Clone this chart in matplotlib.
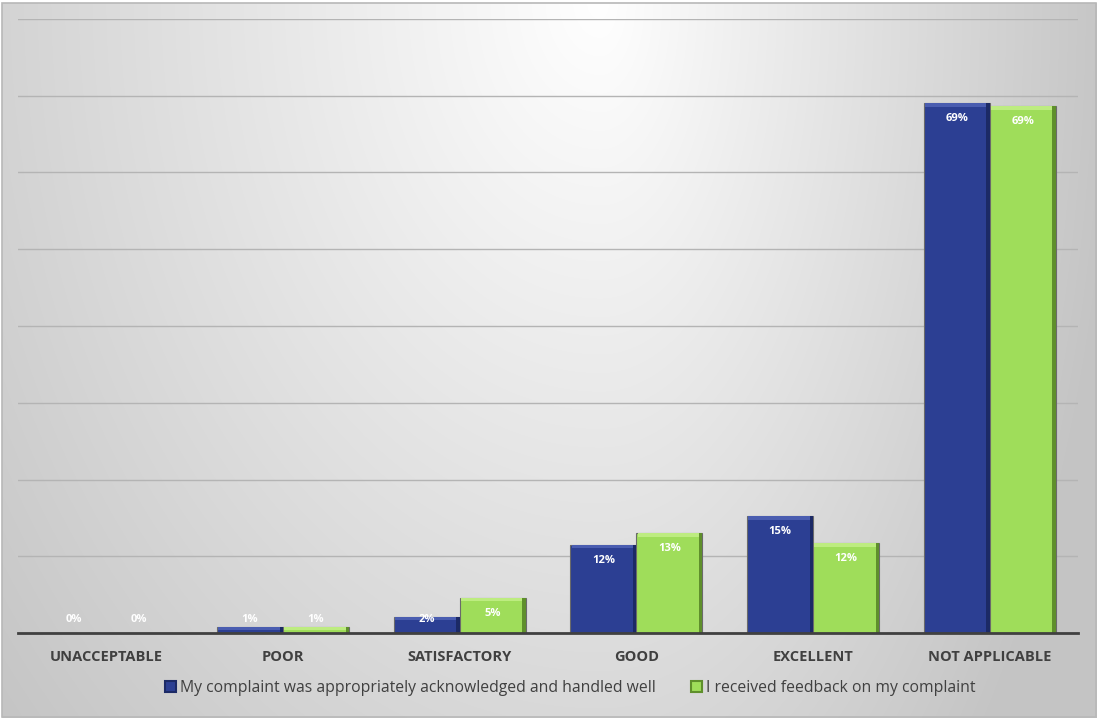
import numpy as np
import matplotlib
matplotlib.use("Agg")
import matplotlib.pyplot as plt
from matplotlib.patches import Rectangle

# data
categories = ["UNACCEPTABLE", "POOR", "SATISFACTORY", "GOOD", "EXCELLENT", "NOT APPLICABLE"]
handled_well = [0, 1, 2, 12, 15, 69]
got_feedback = [0, 1, 5, 13, 12, 69]
series_names = ["My complaint was appropriately acknowledged and handled well",
                "I received feedback on my complaint"]

# drawn heights (labels are rounded in the source)
handled_h = [0, 0.8, 2.1, 11.5, 15.2, 69.0]
feedback_h = [0, 0.8, 4.6, 13.0, 11.7, 68.6]

blue = "#2c3f93"
green = "#9fdd5a"
blue_hi, blue_lo = "#4a5db0", "#1c2a66"
green_hi, green_lo = "#bdec80", "#5f8f2c"

plt.rcParams['font.family'] = ['Open Sans', 'DejaVu Sans']

W, H = 1103, 722
fig = plt.figure(figsize=(W / 100, H / 100), dpi=100)
fig.patch.set_facecolor("white")

# -----------------------------
# background gradient
# -----------------------------
bg = fig.add_axes([0, 0, 1, 1], zorder=-10)
yy, xx = np.mgrid[0:H, 0:W]
cx = 600.0
ax_scale = np.where(xx < cx, 700.0, 450.0)
r = np.sqrt(((xx - cx) / ax_scale) ** 2 + (yy / 950.0) ** 2)
shade = 1.0 - 0.2 * np.clip(r, 0, 1.15)
img = np.ones((H, W, 3))
inside = (xx >= 2) & (xx <= 1096) & (yy >= 3) & (yy <= 717)
for c in range(3):
    img[..., c] = np.where(inside, shade, 1.0)
bg.imshow(img, extent=[0, W, H, 0], aspect="auto", interpolation="bilinear")
bg.set_xlim(0, W)
bg.set_ylim(H, 0)
bg.axis("off")
bg.add_patch(Rectangle((2, 3), 1094, 714, fill=False, edgecolor="#b8b8b8", lw=1.2))

# -----------------------------
# bars
# -----------------------------
ax = fig.add_axes([18 / W, 1 - 633 / H, (1078 - 18) / W, (633 - 19) / H])
ax.patch.set_alpha(0)

x = np.arange(len(categories))
bw = 0.373

def bevel_bars(xpos, heights, face, hi, lo):
    ax.bar(xpos, heights, bw, color=face, edgecolor="#6a6a6a", linewidth=0.8, zorder=3)
    h = np.array(heights)
    cap = np.minimum(h, 0.45)
    ax.bar(xpos, cap, bw * 0.96, bottom=h - cap, color=hi, linewidth=0, zorder=4)
    ax.bar(xpos + bw * 0.475, h, bw * 0.05, color=lo, linewidth=0, zorder=4)

bevel_bars(x - bw / 2, handled_h, blue, blue_hi, blue_lo)
bevel_bars(x + bw / 2, feedback_h, green, green_hi, green_lo)

for xs, hs, vals in [(x - bw / 2, handled_h, handled_well),
                     (x + bw / 2, feedback_h, got_feedback)]:
    for xi, hi_, v in zip(xs, hs, vals):
        ax.text(xi, max(hi_, 3.7) - 2.0, f"{v}%", ha="center", va="center",
                color="white", fontsize=8, fontweight="bold", zorder=5)

ax.set_xlim(-0.5, len(categories) - 0.5)
ax.set_ylim(0, 80)
ax.set_yticks(np.arange(0, 81, 10))
ax.yaxis.grid(True, color="#b4b4b4", lw=1.0, zorder=0)
ax.set_axisbelow(True)
ax.tick_params(axis="y", left=False, labelleft=False)
ax.set_xticks(x)
ax.set_xticklabels(categories, fontsize=10.5, fontweight="bold", color="#404040")
ax.tick_params(axis="x", length=0, pad=12)
for s in ["top", "right", "left"]:
    ax.spines[s].set_visible(False)
ax.spines["bottom"].set_color("#404040")
ax.spines["bottom"].set_linewidth(2)
ax.spines["bottom"].set_zorder(6)

handles = [Rectangle((0, 0), 1, 1, facecolor=blue, edgecolor=blue_lo, lw=1.5),
           Rectangle((0, 0), 1, 1, facecolor=green, edgecolor=green_lo, lw=1.5)]
fig.legend(handles, series_names, loc="center", bbox_to_anchor=(0.517, 1 - 688 / H),
           ncol=2, frameon=False, fontsize=11.3, labelcolor="#404040",
           handlelength=0.7, handleheight=0.7, handletextpad=0.3, columnspacing=2.2)

fig.savefig("out.png", dpi=100)
